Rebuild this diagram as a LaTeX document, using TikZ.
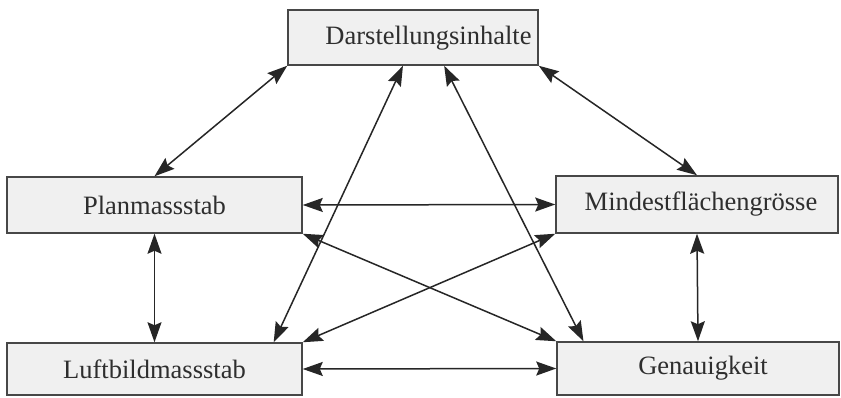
\documentclass[tikz,border=0pt]{standalone}
\usepackage{fontspec}
\setmainfont{Liberation Serif}
\usetikzlibrary{arrows.meta,calc}
\begin{document}
\begin{tikzpicture}[x=1pt,y=-1pt,
  box/.style={draw=black!72,fill=black!6,line width=1.5pt,inner sep=0pt},
  lbl/.style={font=\fontsize{26.5}{30}\selectfont,text=black!82,inner sep=0pt},
  link/.style={{Stealth[length=20pt,width=14pt,inset=3pt]}-{Stealth[length=20pt,width=14pt,inset=3pt]},line width=1.5pt,draw=black!85}]
\useasboundingbox[fill=white] (0,0) rectangle (841,398);
% boxes
\node[box,minimum width=250pt,minimum height=55pt] (D) at (413,37.5) {};
\node[lbl] (Dt) at (428.5,38) {Darstellungsinhalte};
\node[box,lbl,minimum width=295pt,minimum height=56pt] (P) at (154.5,205) {Planmassstab};
\node[box,lbl,minimum width=282pt,minimum height=57pt] (M) at (697,204.5) {\hspace*{8pt}Mindestflächengrösse};
\node[box,lbl,minimum width=295pt,minimum height=52pt] (L) at (154.5,369) {Luftbildmassstab};
\node[box,lbl,minimum width=282pt,minimum height=53pt] (G) at (698,368.5) {\hspace*{10pt}Genauigkeit};
% connectors
\draw[link] (D.south west) -- (P.north);
\draw[link] (D.south east) -- (M.north);
\draw[link] ($(D.south west)!0.46!(D.south east)$) -- ($(L.north west)!0.902!(L.north east)$);
\draw[link] ($(D.south west)!0.624!(D.south east)$) -- ($(G.north west)!0.096!(G.north east)$);
\draw[link] (P.east) -- (M.west);
\draw[link] (L.east) -- (G.west);
\draw[link] (P.south east) -- (G.north west);
\draw[link] (M.south west) -- (L.north east);
\draw[link] (P.south) -- (L.north);
\draw[link] (M.south) -- (G.north);
\end{tikzpicture}
\end{document}
